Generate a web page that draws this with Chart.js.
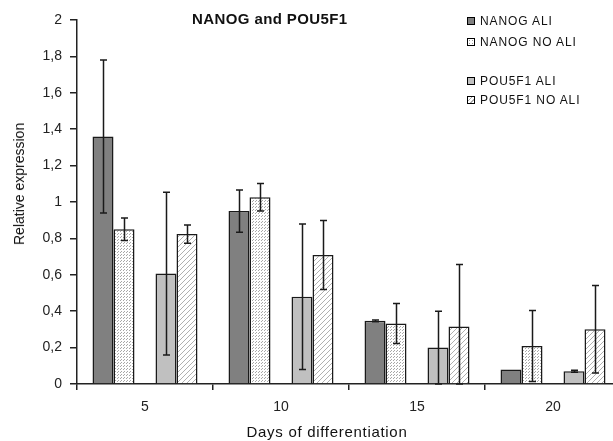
<!DOCTYPE html>
<html>
<head>
<meta charset="utf-8">
<script src="https://cdn.jsdelivr.net/npm/chart.js@4/dist/chart.umd.min.js"></script>
<style>
  body { margin: 0; background: #fff; overflow: hidden; font-family: "Liberation Sans", Arial, sans-serif; }
  #wrap { position: relative; width: 613px; height: 441px; overflow: hidden; }
  #cv { position: absolute; left: 0; top: 0; }
  .txt { position: absolute; color: #111; white-space: nowrap; }
  #title { left: 192px; top: 10px; font-size: 15px; font-weight: bold; letter-spacing: 0.4px; }
  #ytitle { left: 19px; top: 184px; font-size: 14px; font-weight: normal; writing-mode: vertical-rl; transform: translate(-50%, -50%) rotate(180deg); }
  #xtitle { left: 327px; top: 431px; font-size: 15px; letter-spacing: 0.7px; transform: translate(-50%, -50%); }
  .leg { position: absolute; left: 467px; font-size: 12px; letter-spacing: 0.9px; color: #111; }
  .leg span.sw { position: absolute; left: 0; top: 50%; width: 6px; height: 6px; margin-top: -4px; border: 1px solid #000; }
  .leg span.lb { position: absolute; left: 13px; top: 0; transform: translateY(-50%); white-space: nowrap; }
</style>
</head>
<body>
<div id="wrap">
  <canvas id="cv" width="640" height="441"></canvas>
  <div class="txt" id="title">NANOG and POU5F1</div>
  <div class="txt" id="ytitle">Relative expression</div>
  <div class="txt" id="xtitle">Days of differentiation</div>
  <div id="legend"></div>
</div>
<script>
const categories = ['5', '10', '15', '20'];
const nanogAli = [1.36, 0.95, 0.347, 0.08];
const nanogAliErr = [0.42, 0.116, 0.005, 0];
const nanogNoAli = [0.85, 1.026, 0.332, 0.209];
const nanogNoAliErr = [0.062, 0.075, 0.11, 0.195];
const pouAli = [0.607, 0.479, 0.2, 0.07];
const pouAliErr = [0.447, 0.4, 0.2, 0.005];
const pouNoAli = [0.824, 0.709, 0.316, 0.301];
const pouNoAliErr = [0.05, 0.19, 0.34, 0.24];
const yTicks = [0, 0.2, 0.4, 0.6, 0.8, 1, 1.2, 1.4, 1.6, 1.8, 2];

function dotPattern() {
    const c = document.createElement('canvas');
    c.width = 3; c.height = 3;
    const g = c.getContext('2d');
    g.fillStyle = '#fff';
    g.fillRect(0, 0, 3, 3);
    g.fillStyle = '#a8a8a8';
    g.fillRect(0, 0, 1, 1);
    g.fillRect(1, 2, 1, 1);
    return g.createPattern(c, 'repeat');
}

function hatchPattern() {
    const c = document.createElement('canvas');
    c.width = 5; c.height = 5;
    const g = c.getContext('2d');
    g.fillStyle = '#fff';
    g.fillRect(0, 0, 5, 5);
    g.strokeStyle = '#b0b0b0';
    g.lineWidth = 1;
    g.beginPath();
    g.moveTo(0, 5); g.lineTo(5, 0);
    g.moveTo(-1, 1); g.lineTo(1, -1);
    g.moveTo(4, 6); g.lineTo(6, 4);
    g.stroke();
    return g.createPattern(c, 'repeat');
}

const dots = dotPattern();
const hatch = hatchPattern();

const errors = [nanogAliErr, nanogNoAliErr, null, pouAliErr, pouNoAliErr];

const errorBars = {
    id: 'errorBars',
    afterDatasetsDraw(chart) {
        const ctx = chart.ctx;
        const y = chart.scales.y;
        ctx.save();
        ctx.strokeStyle = '#1a1a1a';
        ctx.lineWidth = 1.5;
        chart.data.datasets.forEach((ds, di) => {
            const err = errors[di];
            if (!err) return;
            const meta = chart.getDatasetMeta(di);
            meta.data.forEach((bar, i) => {
                const e = err[i];
                if (!e) return;
                const v = ds.data[i];
                const top = y.getPixelForValue(v + e);
                const bot = y.getPixelForValue(Math.max(0, v - e));
                const x = Math.round(bar.x) + 0.5;
                ctx.beginPath();
                ctx.moveTo(x, top); ctx.lineTo(x, bot);
                ctx.moveTo(x - 3.5, top); ctx.lineTo(x + 3.5, top);
                ctx.moveTo(x - 3.5, bot); ctx.lineTo(x + 3.5, bot);
                ctx.stroke();
            });
        });
        ctx.restore();
    }
};

const ctx = document.getElementById('cv').getContext('2d');
const myChart = new Chart(ctx, {
    type: 'bar',
    data: {
        labels: categories,
        datasets: [
            { label: 'NANOG ALI', data: nanogAli, backgroundColor: '#808080' },
            { label: 'NANOG NO ALI', data: nanogNoAli, backgroundColor: dots },
            { label: '', data: [null, null, null, null], backgroundColor: 'rgba(0,0,0,0)' },
            { label: 'POU5F1 ALI', data: pouAli, backgroundColor: '#c0c0c0' },
            { label: 'POU5F1 NO ALI', data: pouNoAli, backgroundColor: hatch }
        ]
    },
    options: {
        responsive: false,
        animation: false,
        events: [],
        categoryPercentage: 0.772,
        barPercentage: 1,
        datasets: { bar: { borderColor: '#1a1a1a', borderWidth: 1.5 } },
        layout: { padding: { top: 20, right: 19, left: 0, bottom: 0 } },
        plugins: { legend: { display: false }, title: { display: false }, tooltip: { enabled: false } },
        scales: {
            x: {
                offset: true,
                grid: { offset: true, drawOnChartArea: false, tickLength: 6, color: '#222', lineWidth: 1.5 },
                border: { color: '#222', width: 1.5 },
                ticks: { color: '#222', font: { family: 'Liberation Sans', size: 14 }, padding: 9 },
                afterFit(s) { s.height = 57; }
            },
            y: {
                min: 0,
                max: 2,
                afterBuildTicks(s) { s.ticks = yTicks.map(v => ({ value: v })); },
                grid: { drawOnChartArea: false, tickLength: 7, color: '#222', lineWidth: 1.5 },
                border: { color: '#222', width: 1.5 },
                ticks: {
                    color: '#222',
                    font: { family: 'Liberation Sans', size: 14 },
                    padding: 8,
                    callback: v => String(v).replace('.', ',')
                },
                afterFit(s) { s.width = 77; }
            }
        }
    },
    plugins: [errorBars]
});

// legend built from the dataset labels
const legendItems = [
    { i: 0, top: 21 },
    { i: 1, top: 42 },
    { i: 3, top: 81 },
    { i: 4, top: 100 }
];
const swatchCss = ['#808080', 'radial-gradient(#999 30%, transparent 40%) 0 0/3px 3px #fff',
    '', '#c0c0c0', 'repeating-linear-gradient(-45deg, #fff 0 2px, #aaa 2px 3px)'];
const legend = document.getElementById('legend');
for (let item of legendItems) {
    const div = document.createElement('div');
    div.className = 'leg';
    div.style.top = item.top + 'px';
    const sw = document.createElement('span');
    sw.className = 'sw';
    sw.style.background = swatchCss[item.i];
    const lb = document.createElement('span');
    lb.className = 'lb';
    lb.textContent = myChart.data.datasets[item.i].label;
    div.append(sw, lb);
    legend.append(div);
}
</script>
</body>
</html>
